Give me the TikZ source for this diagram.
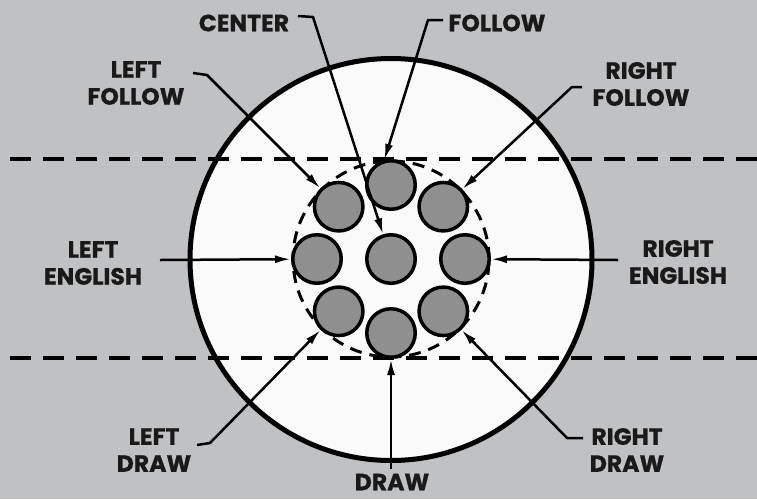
\documentclass[tikz,border=0pt]{standalone}
\usepackage{fontspec}
\setmainfont{Poppins}[BoldFeatures={FakeBold=0.8}]
\usetikzlibrary{arrows.meta}
\definecolor{bg}{RGB}{192,193,195}
\definecolor{ballgray}{RGB}{143,143,143}
\definecolor{inner}{RGB}{250,250,250}
\tikzset{
  ball/.style={circle, draw=black, line width=3.5pt, fill=ballgray, inner sep=0pt, minimum size=48.5pt},
  lab/.style={font=\bfseries\fontsize{23.5}{27}\selectfont, align=center, inner sep=0pt, text=black!90},
  leader/.style={line width=2.5pt, line join=round, -{Latex[length=16pt,width=8pt]}},
  hdash/.style={line width=4.5pt, dash pattern=on 21pt off 12pt, dash phase=23pt},
  cdash/.style={line width=3pt, dash pattern=on 12pt off 8pt},
}
\begin{document}
\begin{tikzpicture}[x=1pt,y=-1pt]
\fill[bg] (0,0) rectangle (757,499);
\useasboundingbox (0,0) rectangle (757,499);
% big circle
\draw[line width=5pt, fill=inner] (391,259.5) circle (201pt);
% horizontal dashed lines
\draw[hdash] (0,159) -- (757,159);
\draw[hdash] (0,358) -- (757,358);
% dashed circle
\draw[cdash] (391,259) circle (98pt);
% balls
\node[ball] (b0) at (391,259) {};
\node[ball] (b1) at (391,185) {};
\node[ball] (b2) at (443.3,206.7) {};
\node[ball] (b3) at (465,259) {};
\node[ball] (b4) at (443.3,311.3) {};
\node[ball] (b5) at (391,333) {};
\node[ball] (b6) at (338.7,311.3) {};
\node[ball] (b7) at (317,259) {};
\node[ball] (b8) at (338.7,206.7) {};
% labels
\node[lab] (lcenter) at (244,23) {CENTER};
\node[lab] (lfollow) at (497,23) {FOLLOW};
\node[lab] (llf) at (136,83) {LEFT\\FOLLOW};
\node[lab] (lrf) at (641,84) {RIGHT\\FOLLOW};
\node[lab] (lle) at (93,263) {LEFT\\ENGLISH};
\node[lab] (lre) at (678,262) {RIGHT\\ENGLISH};
\node[lab] (lld) at (154,450) {LEFT\\DRAW};
\node[lab] (lrd) at (627,450) {RIGHT\\DRAW};
\node[lab] (ldraw) at (392,482) {DRAW};
% leader coordinates
\coordinate (c1) at (298,16);  \coordinate (c2) at (313,17);
\coordinate (f1) at (443,20);  \coordinate (f2) at (428,20);
\coordinate (lf1) at (193,73); \coordinate (lf2) at (207,75);
\coordinate (rf1) at (582,87); \coordinate (rf2) at (572,87);
\coordinate (le) at (160,260);
\coordinate (re) at (618,260);
\coordinate (ld1) at (197,445); \coordinate (ld2) at (210,443);
\coordinate (rd1) at (583,438); \coordinate (rd2) at (567,438);
\coordinate (dr) at (391,469);
% leaders
\draw[leader] (c1) -- (c2) -- (b0);
\draw[leader] (f1) -- (f2) -- (b1.105);
\draw[leader] (lf1) -- (lf2) -- (b8);
\draw[leader] (rf1) -- (rf2) -- (b2);
\draw[leader] (le) -- (b7);
\draw[leader] (re) -- (b3);
\draw[leader] (ld1) -- (ld2) -- (b6);
\draw[leader] (rd1) -- (rd2) -- (b4);
\draw[leader] (dr) -- (b5);
\end{tikzpicture}
\end{document}
